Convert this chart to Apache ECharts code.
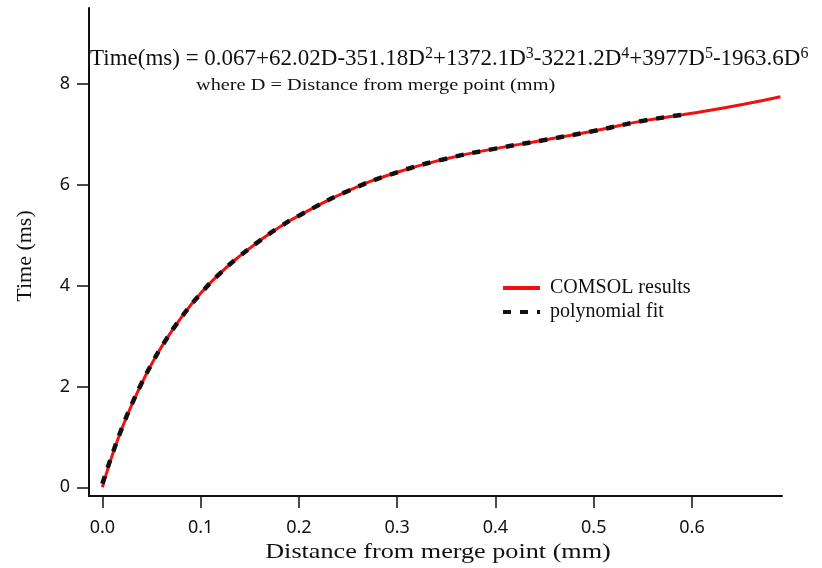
<!DOCTYPE html>
<html>
<head>
<meta charset="utf-8">
<script src="https://cdn.jsdelivr.net/npm/echarts@6/dist/echarts.min.js"></script>
<style>
  html, body { margin: 0; padding: 0; background: #fff; }
  #chart { width: 822px; height: 568px; }
</style>
</head>
<body>
<div id="chart"></div>
<script>
// values
var comsolDist = [0, 0.005, 0.01, 0.02, 0.03, 0.04, 0.05, 0.06, 0.08, 0.10, 0.12, 0.14, 0.16, 0.18, 0.20, 0.25, 0.30, 0.35, 0.40, 0.45, 0.50, 0.55, 0.60, 0.65, 0.69];
var comsolTime = [0.0, 0.33, 0.63, 1.17, 1.64, 2.06, 2.44, 2.78, 3.36, 3.85, 4.25, 4.59, 4.89, 5.16, 5.39, 5.88, 6.25, 6.52, 6.72, 6.89, 7.07, 7.27, 7.42, 7.59, 7.75];

var fitDist = [0, 0.01, 0.02, 0.03, 0.04, 0.05, 0.06, 0.08, 0.10, 0.12, 0.14, 0.16, 0.18, 0.20, 0.25, 0.30, 0.35, 0.40, 0.45, 0.50, 0.55, 0.59];
var fitTime = [0.07, 0.65, 1.18, 1.65, 2.07, 2.44, 2.78, 3.36, 3.84, 4.25, 4.59, 4.89, 5.16, 5.39, 5.88, 6.25, 6.52, 6.72, 6.89, 7.07, 7.27, 7.39];

var xTicks = [0, 0.1, 0.2, 0.3, 0.4, 0.5, 0.6];
var yTicks = [0, 2, 4, 6, 8];

var serif = "'Liberation Serif', 'Times New Roman', serif";
var sans = "'Noto Sans', sans-serif";

function pairs(xs, ys) {
  return xs.map(function (x, i) { return [x, ys[i]]; });
}

var chartDom = document.getElementById("chart");
var myChart = echarts.init(chartDom);
var option = {
  animation: false,
  grid: {
    left: 89,
    right: 40,
    top: 8,
    bottom: 72,
  },
  legend: {
    orient: "vertical",
    left: 496,
    top: 273,
    itemWidth: 37,
    itemHeight: 14,
    itemGap: 4,
    lineStyle: { width: 4 },
    itemStyle: { opacity: 0 },
    textStyle: {
      fontFamily: serif,
      fontSize: 20,
      color: "#111",
      padding: [0, 0, 0, 5],
    },
    data: ["COMSOL results", "polynomial fit"],
  },
  xAxis: {
    type: "value",
    min: -0.0136,
    max: 0.6916,
    splitLine: { show: false },
    axisLine: { onZero: false, lineStyle: { color: "#111", width: 2 } },
    axisTick: {
      length: 12,
      lineStyle: { color: "#111", width: 1.5 },
      customValues: xTicks,
    },
    axisLabel: {
      margin: 23,
      fontFamily: sans,
      fontSize: 18,
      color: "#111",
      customValues: xTicks,
      formatter: function (v) { return v.toFixed(1); },
    },
  },
  yAxis: {
    type: "value",
    min: -0.173,
    max: 9.51,
    splitLine: { show: false },
    axisLine: { show: true, onZero: false, lineStyle: { color: "#111", width: 2 } },
    axisTick: {
      show: true,
      length: 12,
      lineStyle: { color: "#111", width: 1.5 },
      customValues: yTicks,
    },
    axisLabel: {
      margin: 19,
      fontFamily: sans,
      fontSize: 18,
      color: "#111",
      customValues: yTicks,
    },
  },
  graphic: [
    {
      type: "text",
      x: 90,
      y: 59,
      style: {
        text: "{b|Time(ms) = 0.067+62.02D-351.18D}{s|2}{b|+1372.1D}{s|3}{b|-3221.2D}{s|4}{b|+3977D}{s|5}{b|-1963.6D}{s|6}",
        verticalAlign: "middle",
        fill: "#111",
        rich: {
          b: { fontFamily: serif, fontSize: 23, lineHeight: 26, fill: "#111" },
          s: { fontFamily: serif, fontSize: 16, lineHeight: 22, verticalAlign: "top", fill: "#111" },
        },
      },
    },
    {
      type: "text",
      x: 196,
      y: 86,
      scaleX: 1.27,
      style: {
        text: "where D = Distance from merge point (mm)",
        fontFamily: serif,
        fontSize: 16,
        fill: "#111",
        verticalAlign: "middle",
      },
    },
    {
      type: "text",
      x: 438,
      y: 552,
      scaleX: 1.19,
      style: {
        text: "Distance from merge point (mm)",
        fontFamily: serif,
        fontSize: 22,
        fill: "#111",
        align: "center",
        verticalAlign: "middle",
      },
    },
    {
      type: "text",
      x: 25,
      y: 256,
      rotation: Math.PI / 2,
      style: {
        text: "Time (ms)",
        fontFamily: serif,
        fontSize: 22,
        fill: "#111",
        align: "center",
        verticalAlign: "middle",
      },
    },
  ],
  series: [
    {
      name: "COMSOL results",
      type: "line",
      smooth: true,
      showSymbol: false,
      symbol: "none",
      lineStyle: { color: "#f01010", width: 3 },
      itemStyle: { color: "#f01010" },
      data: pairs(comsolDist, comsolTime),
    },
    {
      name: "polynomial fit",
      type: "line",
      smooth: true,
      showSymbol: false,
      symbol: "none",
      lineStyle: { color: "#111", width: 4.5, type: [8, 9], cap: "butt" },
      itemStyle: { color: "#111" },
      data: pairs(fitDist, fitTime),
    },
  ],
};
option && myChart.setOption(option);
</script>
</body>
</html>
